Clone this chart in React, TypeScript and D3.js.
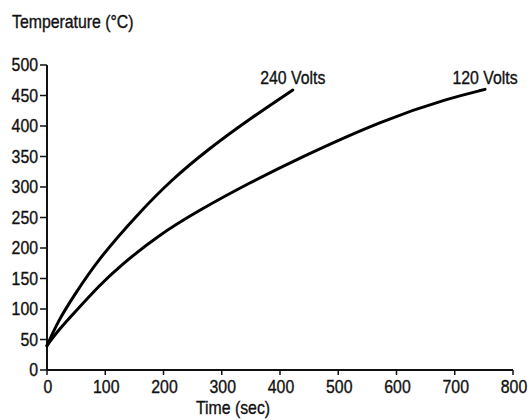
import React from "react";
import * as d3 from "d3";

const xTicks = [0, 100, 200, 300, 400, 500, 600, 700, 800];
const yTicks = [0, 50, 100, 150, 200, 250, 300, 350, 400, 450, 500];

const t240 = [0, 20, 45, 88, 160, 213, 274, 350, 422];
const v240 = [40, 82, 120, 182, 260, 311, 360, 413, 459];

const t120 = [0, 20, 45, 91, 125, 188, 263, 348, 434, 577, 692, 752];
const v120 = [40, 66, 92, 140, 170, 219, 263, 307, 348, 410, 446, 460];

const seriesNames = ["240 Volts", "120 Volts"];

const FONT = "'Liberation Sans', Arial, sans-serif";
const SX = 0.88;

function T({ x, y, anchor = "start", dy, children }: any) {
  return (
    <text
      transform={`translate(${x},${y}) scale(${SX},1)`}
      textAnchor={anchor}
      dy={dy}
      fill="#111"
      stroke="#111"
      strokeWidth={0.35}
    >
      {children}
    </text>
  );
}

export default function App() {
  const W = 530, H = 420;
  const x = d3.scaleLinear().domain([0, 800]).range([47, 513]);
  const y = d3.scaleLinear().domain([0, 500]).range([370, 65]);
  const line = d3
    .line<[number, number]>()
    .x((d) => x(d[0]))
    .y((d) => y(d[1]))
    .curve(d3.curveBasis);

  const s240: [number, number][] = t240.map((t, i) => [t, v240[i]]);
  const s120: [number, number][] = t120.map((t, i) => [t, v120[i]]);
  const series = [s240, s120];

  return (
    <svg
      width={W}
      height={H}
      style={{ position: "absolute", left: 0, top: 0, background: "#fff" }}
      fontFamily={FONT}
      fontSize={18}
    >
      <T x={12} y={28}>Temperature (°C)</T>
      <line x1={x(0)} x2={x(0)} y1={y(500)} y2={y(0)} stroke="#111" strokeWidth={2} />
      <line x1={x(0)} x2={x(800)} y1={y(0)} y2={y(0)} stroke="#111" strokeWidth={2} />
      {yTicks.map((v) => (
        <g key={"y" + v}>
          <line x1={x(0) - 7} x2={x(0)} y1={y(v)} y2={y(v)} stroke="#111" strokeWidth={1.5} />
          <T x={x(0) - 9} y={y(v)} dy="0.36em" anchor="end">
            {v}
          </T>
        </g>
      ))}
      {xTicks.map((v) => (
        <g key={"x" + v}>
          <line x1={x(v)} x2={x(v)} y1={y(0)} y2={y(0) + 5} stroke="#111" strokeWidth={1.5} />
          <T x={x(v) + 1} y={393} anchor="middle">
            {v}
          </T>
        </g>
      ))}
      <T x={233} y={414} anchor="middle">Time (sec)</T>
      {series.map((s, i) => (
        <g key={"s" + i}>
          <path d={line(s) || ""} fill="none" stroke="#000" strokeWidth={3} strokeLinecap="round" />
          <T x={x(s[s.length - 1][0])} y={84} anchor="middle">
            {seriesNames[i]}
          </T>
        </g>
      ))}
    </svg>
  );
}
